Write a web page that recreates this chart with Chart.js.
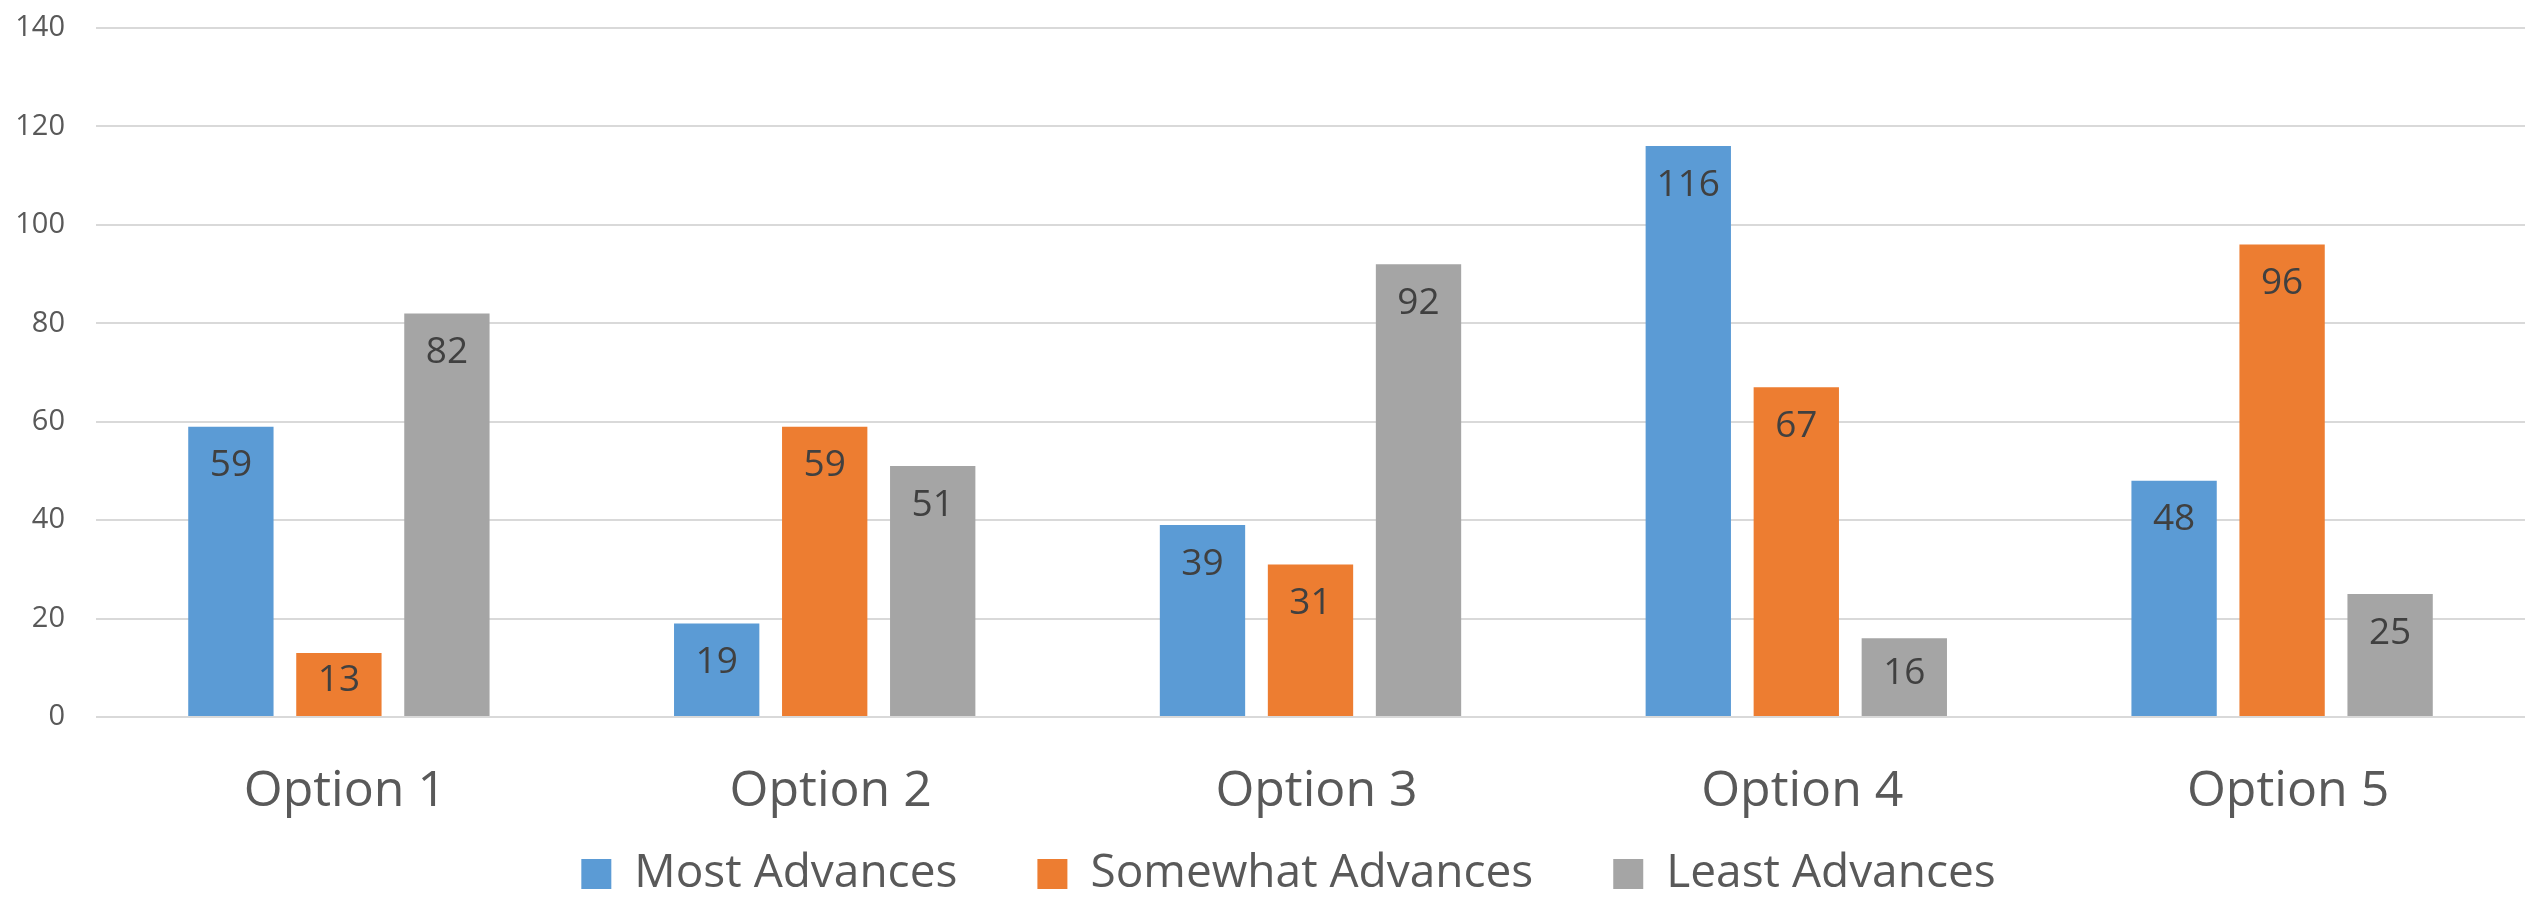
<!DOCTYPE html>
<html lang="en">
<head>
    <meta charset="utf-8">
    <title>Options chart</title>
    <script src="https://cdn.jsdelivr.net/npm/chart.js@4.4.1/dist/chart.umd.min.js"></script>
    <style>
        html, body { margin: 0; padding: 0; background: #fff; }
        #wrap { width: 2529px; height: 900px; }
    </style>
</head>
<body>
    <div id="wrap"><canvas id="bar-chart" width="2529" height="900"></canvas></div>
    <script>
        // data
        let categories = ["Option 1", "Option 2", "Option 3", "Option 4", "Option 5"];
        let mostAdvances = [59, 19, 39, 116, 48];
        let somewhatAdvances = [13, 59, 31, 67, 96];
        let leastAdvances = [82, 51, 92, 16, 25];
        let yTicks = [0, 20, 40, 60, 80, 100, 120, 140];

        let font = "'Open Sans', 'DejaVu Sans', sans-serif";

        // value labels inside the top of each bar
        let barLabels = {
            id: 'barLabels',
            afterLayout(chart) {
                // x axis is kept short so the legend fits; let its labels spill below
                chart.scales.x.bottom = chart.height;
                // legend sits a bit right of centre in the original
                chart.legend.left += 26;
                chart.legend.right += 26;
            },
            afterDatasetsDraw(chart) {
                let ctx = chart.ctx;
                ctx.save();
                ctx.font = "37px " + font;
                ctx.fillStyle = "#404040";
                ctx.textAlign = "center";
                ctx.textBaseline = "middle";
                chart.data.datasets.forEach((ds, i) => {
                    chart.getDatasetMeta(i).data.forEach((bar, j) => {
                        let y = Math.min(bar.y + 39, (bar.y + bar.base) / 2 - 4);
                        ctx.fillText(String(ds.data[j]), bar.x, y);
                    });
                });
                ctx.restore();
            }
        };

        new Chart(document.getElementById("bar-chart"), {
            type: 'bar',
            data: {
                labels: categories,
                datasets: [
                    { label: "Most Advances", data: mostAdvances, backgroundColor: "#5B9BD5" },
                    { label: "Somewhat Advances", data: somewhatAdvances, backgroundColor: "#ED7D31" },
                    { label: "Least Advances", data: leastAdvances, backgroundColor: "#A5A5A5" }
                ]
            },
            options: {
                responsive: false,
                animation: false,
                layout: { padding: { top: 28, right: 4, bottom: -7, left: 0 } },
                datasets: { bar: { categoryPercentage: 0.667, barPercentage: 0.79 } },
                scales: {
                    x: {
                        grid: { display: false },
                        border: { display: false },
                        ticks: { color: "#595959", font: { family: font, size: 50 }, padding: 37, labelOffset: 6 },
                        afterFit(scale) { scale.height = 54; }
                    },
                    y: {
                        min: 0,
                        max: 140,
                        afterBuildTicks(scale) { scale.ticks = yTicks.map(v => ({ value: v })); },
                        grid: { color: "#D9D9D9", lineWidth: 2, drawTicks: false },
                        border: { display: false },
                        ticks: { color: "#595959", font: { family: font, size: 29 }, padding: 31 },
                        afterFit(scale) {
                            scale.width = 96;
                            scale.paddingTop = 17;
                            scale.paddingBottom = 17;
                        }
                    }
                },
                plugins: {
                    legend: {
                        position: 'bottom',
                        labels: {
                            color: "#595959",
                            font: { family: font, size: 46 },
                            boxWidth: 30,
                            boxHeight: 30,
                            padding: 80
                        }
                    },
                    tooltip: { enabled: false }
                }
            },
            plugins: [barLabels]
        });
    </script>
</body>
</html>
